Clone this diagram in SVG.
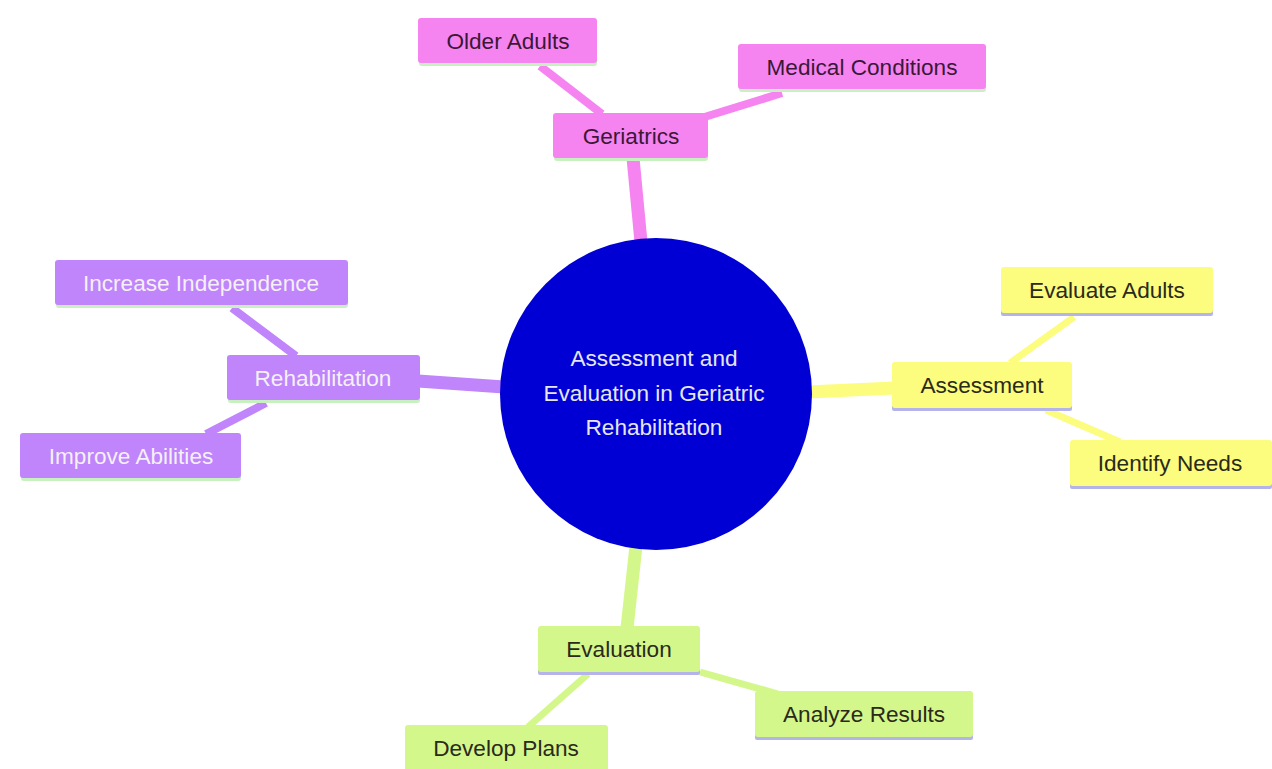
<svg xmlns="http://www.w3.org/2000/svg" width="1272" height="769" viewBox="0 0 1272 769">
<defs>
<style>
text{font-family:"Liberation Sans",Arial,sans-serif;font-size:22.6px;text-anchor:middle;dominant-baseline:central}
.pk{fill:#f584f0}.pu{fill:#c084fb}.ye{fill:#fcfc7e}.gr{fill:#d4f78c}
.shg{fill:#c8f0c0}.shl{fill:#b4b4ea}
.tpk{fill:#3a1838}.tpu{fill:#f4f0f8}.tdk{fill:#2a2a1a}
.c{stroke-linecap:butt;fill:none}
.cpk{stroke:#f584f0}.cpu{stroke:#c084fb}.cye{stroke:#fcfc7e}.cgr{stroke:#d4f78c}
</style>
</defs>
<rect width="1272" height="769" fill="#ffffff"/>
<g id="connectors">
<line class="c cpk" x1="633" y1="158" x2="641" y2="242" stroke-width="13"/>
<line class="c cpk" x1="540" y1="66" x2="602" y2="114" stroke-width="8"/>
<line class="c cpk" x1="782" y1="93" x2="698" y2="119" stroke-width="8"/>
<line class="c cpu" x1="418" y1="381" x2="504" y2="387" stroke-width="13"/>
<line class="c cpu" x1="232" y1="308" x2="296" y2="356" stroke-width="8"/>
<line class="c cpu" x1="266" y1="403" x2="206" y2="434" stroke-width="8"/>
<line class="c cye" x1="808" y1="392" x2="894" y2="388" stroke-width="13"/>
<line class="c cye" x1="1074" y1="317" x2="1010" y2="363" stroke-width="7"/>
<line class="c cye" x1="1046" y1="410" x2="1120" y2="442" stroke-width="7"/>
<line class="c cgr" x1="636" y1="546" x2="627" y2="628" stroke-width="13"/>
<line class="c cgr" x1="588" y1="674" x2="528" y2="727" stroke-width="7"/>
<line class="c cgr" x1="700" y1="672" x2="778" y2="694" stroke-width="7"/>
</g>
<g id="center">
<circle cx="656" cy="394" r="156" fill="#0000d4"/>
<text x="654" y="358" fill="#e6e6f2">Assessment and</text>
<text x="654" y="393" fill="#e6e6f2">Evaluation in Geriatric</text>
<text x="654" y="427" fill="#e6e6f2">Rehabilitation</text>
</g>
<g id="geriatrics">
<rect class="shg" x="554" y="115" width="154" height="46" rx="3"/>
<rect class="pk" x="553" y="113" width="155" height="45" rx="3"/>
<text class="tpk" x="631" y="136">Geriatrics</text>
</g>
<g id="older-adults">
<rect class="shg" x="419" y="20" width="178" height="46" rx="3"/>
<rect class="pk" x="418" y="18" width="179" height="45" rx="3"/>
<text class="tpk" x="508" y="41">Older Adults</text>
</g>
<g id="medical-conditions">
<rect class="shg" x="739" y="46" width="247" height="46" rx="3"/>
<rect class="pk" x="738" y="44" width="248" height="45" rx="3"/>
<text class="tpk" x="862" y="67">Medical Conditions</text>
</g>
<g id="rehabilitation">
<rect class="shg" x="228" y="357" width="192" height="46" rx="3"/>
<rect class="pu" x="227" y="355" width="193" height="45" rx="3"/>
<text class="tpu" x="323" y="378">Rehabilitation</text>
</g>
<g id="increase-independence">
<rect class="shg" x="56" y="262" width="292" height="46" rx="3"/>
<rect class="pu" x="55" y="260" width="293" height="45" rx="3"/>
<text class="tpu" x="201" y="283">Increase Independence</text>
</g>
<g id="improve-abilities">
<rect class="shg" x="21" y="435" width="220" height="46" rx="3"/>
<rect class="pu" x="20" y="433" width="221" height="45" rx="3"/>
<text class="tpu" x="131" y="456">Improve Abilities</text>
</g>
<g id="assessment">
<rect class="shl" x="892" y="364" width="180" height="47" rx="2"/>
<rect class="ye" x="892" y="362" width="180" height="46" rx="3"/>
<text class="tdk" x="982" y="385">Assessment</text>
</g>
<g id="evaluate-adults">
<rect class="shl" x="1001" y="269" width="212" height="47" rx="2"/>
<rect class="ye" x="1001" y="267" width="212" height="46" rx="3"/>
<text class="tdk" x="1107" y="290">Evaluate Adults</text>
</g>
<g id="identify-needs">
<rect class="shl" x="1070" y="442" width="202" height="47" rx="2"/>
<rect class="ye" x="1070" y="440" width="202" height="46" rx="3"/>
<text class="tdk" x="1170" y="463">Identify Needs</text>
</g>
<g id="evaluation">
<rect class="shl" x="538" y="628" width="162" height="47" rx="2"/>
<rect class="gr" x="538" y="626" width="162" height="46" rx="3"/>
<text class="tdk" x="619" y="649">Evaluation</text>
</g>
<g id="analyze-results">
<rect class="shl" x="755" y="693" width="218" height="47" rx="2"/>
<rect class="gr" x="755" y="691" width="218" height="46" rx="3"/>
<text class="tdk" x="864" y="714">Analyze Results</text>
</g>
<g id="develop-plans">
<rect class="gr" x="405" y="725" width="203" height="46" rx="3"/>
<text class="tdk" x="506" y="748">Develop Plans</text>
</g>
</svg>
